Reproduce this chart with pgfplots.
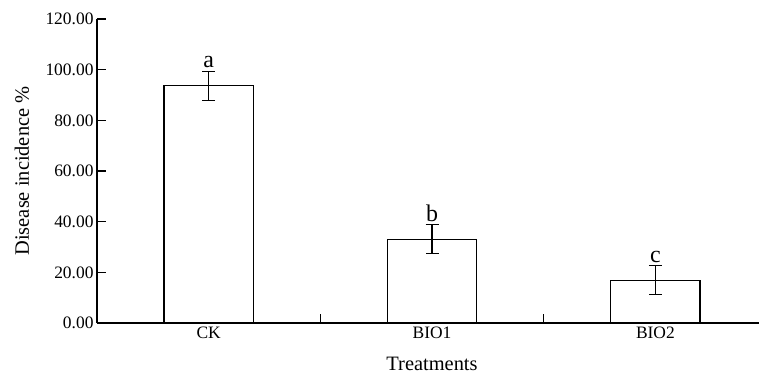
\documentclass[border=0pt]{standalone}
\usepackage{pgfplots}
\pgfplotsset{compat=1.18}
\usepackage{fontspec}
\setmainfont{Liberation Serif}
\begin{document}
\begin{tikzpicture}
\begin{axis}[
  scale only axis, width=662bp, height=304bp,
  xmin=-0.5, xmax=2.464, ymin=0, ymax=120,
  axis x line*=bottom, axis y line*=left,
  axis line style={line width=1.5bp},
  ytick={0,20,...,120},
  yticklabel style={/pgf/number format/.cd, fixed, fixed zerofill, precision=2, assume math mode=true},
  tick label style={font=\fontsize{17.5}{20}\selectfont},
  tick align=inside,
  major tick length=9bp,
  tick style={line width=1.5bp, black},
  xtick={0.5,1.5}, xticklabels={},
  extra x ticks={0,1,2},
  extra x tick labels={CK,BIO1,BIO2},
  extra x tick style={major tick length=0pt},
  xlabel={Treatments},
  ylabel={Disease incidence \%},
  every axis y label/.style={at={(axis description cs:0,0.5)}, xshift=-75bp, rotate=90, anchor=center, font=\fontsize{20.5}{23}\selectfont},
  every axis x label/.style={at={(axis cs:1,0)}, yshift=-41bp, anchor=center, font=\fontsize{20.5}{23}\selectfont},
]
\addplot[ybar, bar width=0.4, fill=white, draw=black, line width=1.2bp,
  error bars/.cd, y dir=both, y explicit,
  error bar style={line width=1.2bp, black},
  error mark options={rotate=90, mark size=6.5bp, line width=1.2bp, black}]
  coordinates {(0,93.6) +- (0,5.8) (1,33.1) +- (0,5.8) (2,16.9) +- (0,5.8)};
\node[anchor=south, inner sep=0pt, yshift=3bp, font=\fontsize{24}{26}\selectfont] at (axis cs:0,99.4) {a};
\node[anchor=south, inner sep=0pt, yshift=3bp, font=\fontsize{24}{26}\selectfont] at (axis cs:1,38.9) {b};
\node[anchor=south, inner sep=0pt, yshift=3bp, font=\fontsize{24}{26}\selectfont] at (axis cs:2,22.7) {c};
\end{axis}
\pgfresetboundingbox
\path ([xshift=-97bp,yshift=-51bp]current axis.south west) rectangle ([xshift=1bp,yshift=19bp]current axis.north east);
\end{tikzpicture}
\end{document}
